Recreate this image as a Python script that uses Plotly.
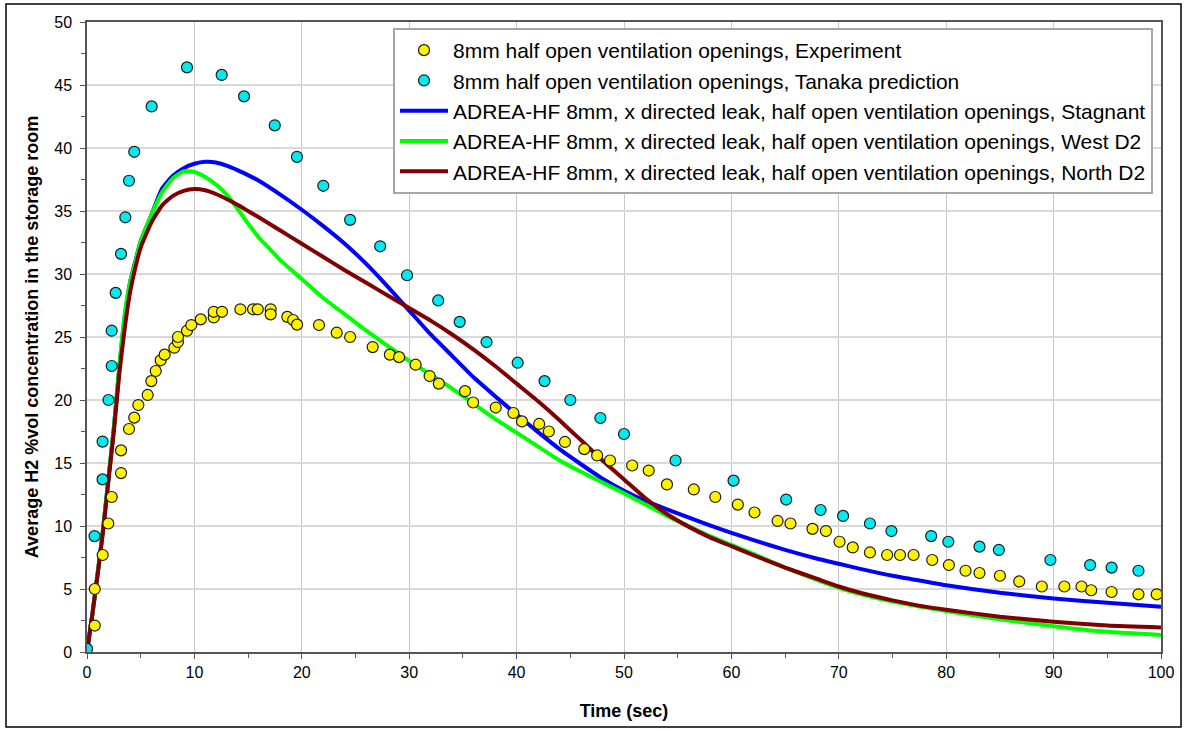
import plotly.graph_objects as go

# Experiment (yellow)
exp_t = [0.72, 0.72, 1.46, 1.98, 2.3, 3.17, 3.17, 3.91, 4.4, 4.78, 5.65, 5.99, 6.4, 6.86, 7.23, 8.13, 8.47, 8.47,
         9.31, 9.71, 10.59, 11.8, 11.8, 12.57, 14.28, 15.46, 15.9, 17.1, 17.1, 18.65, 19.19, 19.56, 21.6, 23.25,
         24.5, 26.6, 28.2, 29.06, 30.6, 31.9, 32.76, 35.2, 35.95, 38.06, 39.7, 40.5, 42.1, 43.0, 44.5, 46.3, 47.5,
         48.7, 50.76, 52.3, 54.0, 56.5, 58.5, 60.6, 62.15, 64.3, 65.5, 67.55, 68.8, 70.07, 71.3, 72.9, 74.5, 75.7,
         76.96, 78.7, 80.25, 81.8, 83.1, 85.0, 86.8, 88.9, 91.0, 92.6, 93.5, 95.4, 97.9, 99.6]
exp_v = [2.1, 5.0, 7.7, 10.2, 12.3, 14.2, 16.0, 17.7, 18.6, 19.6, 20.4, 21.5, 22.3, 23.15, 23.6, 24.15, 24.6, 25.0,
         25.5, 25.95, 26.4, 26.55, 27.0, 27.0, 27.2, 27.2, 27.2, 27.2, 26.8, 26.6, 26.35, 25.98, 25.95, 25.34,
         25.0, 24.2, 23.6, 23.4, 22.8, 21.9, 21.3, 20.7, 19.8, 19.4, 18.97, 18.3, 18.1, 17.5, 16.67, 16.1, 15.6,
         15.2, 14.8, 14.4, 13.3, 12.9, 12.3, 11.7, 11.07, 10.4, 10.2, 9.77, 9.6, 8.75, 8.3, 7.9, 7.7, 7.7,
         7.7, 7.3, 6.9, 6.45, 6.27, 6.05, 5.6, 5.2, 5.2, 5.2, 4.9, 4.76, 4.58, 4.58]

# Tanaka prediction (cyan)
tan_t = [0, 0.7, 1.45, 1.45, 2.0, 2.3, 2.3, 2.67, 3.17, 3.57, 3.91, 4.4, 6.02, 9.31, 12.54, 14.62, 17.48, 19.55,
         22.0, 24.5, 27.3, 29.8, 32.7, 34.7, 37.2, 40.1, 42.6, 45.0, 47.8, 50.0, 54.8, 60.2, 65.1, 68.3, 70.4,
         72.9, 74.9, 78.6, 80.2, 83.1, 84.9, 89.7, 93.4, 95.4, 97.9]
tan_v = [0.25, 9.2, 13.7, 16.7, 20.0, 22.7, 25.5, 28.5, 31.6, 34.5, 37.4, 39.7, 43.3, 46.4, 45.8, 44.1, 41.8, 39.3,
         37.0, 34.3, 32.2, 29.9, 27.9, 26.2, 24.6, 22.96, 21.5, 20.0, 18.57, 17.3, 15.2, 13.6, 12.1, 11.27, 10.8,
         10.2, 9.6, 9.2, 8.75, 8.36, 8.1, 7.3, 6.9, 6.7, 6.45]

# ADREA-HF Stagnant (blue)
sta_t = [0, 0.5, 1, 1.5, 2, 2.5, 3, 3.5, 4, 4.5, 5, 6, 7, 8, 9, 10, 11, 12, 13, 14, 15, 16, 18, 20, 22, 24, 26, 28,
         30, 32, 34, 36, 38, 40, 42, 44, 46, 48, 50, 52, 55, 58, 60, 62, 65, 68, 70, 72, 75, 78, 80, 85, 90, 95, 100]
sta_v = [0, 3.0, 6.3, 9.8, 13.8, 17.8, 22.5, 26.5, 29.3, 31.0, 32.6, 34.7, 36.8, 37.8, 38.4, 38.75, 38.9, 38.85,
         38.6, 38.25, 37.85, 37.4, 36.3, 35.1, 33.8, 32.4, 30.8, 29.0, 27.1, 25.2, 23.5, 21.8, 20.3, 18.85, 17.45,
         16.1, 14.9, 13.75, 12.8, 12.0, 11.0, 10.05, 9.45, 8.9, 8.1, 7.4, 7.0, 6.6, 6.05, 5.6, 5.3, 4.7, 4.25, 3.9, 3.6]

# ADREA-HF West D2 (green)
wes_t = [0, 0.5, 1, 1.5, 2, 2.5, 3, 3.5, 4, 4.5, 5, 6, 7, 8, 9, 10, 11, 12, 13, 14, 15, 16, 17, 18, 20, 22, 24, 26,
         28, 30, 32, 34, 36, 38, 40, 42, 44, 46, 48, 50, 52, 54, 56, 58, 60, 62, 65, 68, 70, 72, 75, 78, 80, 85,
         90, 95, 100]
wes_v = [0, 3.0, 6.3, 9.8, 13.8, 17.8, 22.6, 26.7, 29.3, 30.9, 32.6, 34.7, 36.5, 37.6, 38.15, 38.1, 37.7, 37.1,
         36.3, 35.2, 34.0, 32.9, 32.0, 31.1, 29.6, 28.1, 26.8, 25.5, 24.3, 23.1, 22.0, 20.9, 19.7, 18.5, 17.4,
         16.3, 15.2, 14.3, 13.45, 12.6, 11.7, 10.8, 10.0, 9.2, 8.5, 7.8, 6.7, 5.7, 5.1, 4.6, 4.0, 3.55, 3.25, 2.6,
         2.05, 1.6, 1.35]

# ADREA-HF North D2 (dark red)
nor_t = [0, 0.5, 1, 1.5, 2, 2.5, 3, 3.5, 4, 4.5, 5, 6, 7, 8, 9, 10, 11, 12, 13, 14, 15, 16, 18, 20, 22, 24, 26, 28,
         30, 32, 34, 36, 38, 40, 42, 44, 46, 48, 50, 52, 54, 56, 58, 60, 62, 65, 68, 70, 72, 75, 78, 80, 85, 90,
         95, 100]
nor_v = [0, 3.0, 6.2, 9.6, 13.6, 17.5, 22.0, 25.6, 28.5, 30.5, 32.1, 34.1, 35.45, 36.2, 36.6, 36.75, 36.65, 36.35,
         35.95, 35.5, 35.0, 34.5, 33.45, 32.4, 31.35, 30.3, 29.3, 28.3, 27.3, 26.3, 25.2, 24.0, 22.7, 21.3, 19.9,
         18.4, 16.8, 15.2, 13.7, 12.2, 10.95, 9.95, 9.1, 8.4, 7.7, 6.7, 5.8, 5.2, 4.7, 4.1, 3.6, 3.35, 2.8, 2.4,
         2.1, 1.95]

names = [
    "8mm half open ventilation openings, Experiment",
    "8mm half open ventilation openings, Tanaka prediction",
    "ADREA-HF 8mm, x directed leak, half open ventilation openings, Stagnant",
    "ADREA-HF 8mm, x directed leak, half open ventilation openings, West D2",
    "ADREA-HF 8mm, x directed leak, half open ventilation openings, North D2",
]

x_ticks = [0, 10, 20, 30, 40, 50, 60, 70, 80, 90, 100]
y_ticks = [0, 5, 10, 15, 20, 25, 30, 35, 40, 45, 50]

fig = go.Figure()
line_specs = [(sta_t, sta_v, "#0000FF", names[2], 3),
              (wes_t, wes_v, "#00FF00", names[3], 4),
              (nor_t, nor_v, "#800000", names[4], 5)]
for t, v, c, n, r in line_specs:
    fig.add_trace(go.Scatter(x=t, y=v, mode="lines", name=n, legendrank=r,
                             line=dict(color=c, width=4, shape="spline", smoothing=0.5)))

fig.add_trace(go.Scatter(x=exp_t, y=exp_v, mode="markers", name=names[0], legendrank=1,
                         marker=dict(symbol="circle", size=11, color="#FFF200",
                                     line=dict(color="#1a1a1a", width=1.2))))
fig.add_trace(go.Scatter(x=tan_t, y=tan_v, mode="markers", name=names[1], legendrank=2,
                         marker=dict(symbol="circle", size=11, color="#00EAF2",
                                     line=dict(color="#1a1a1a", width=1.2))))

L, R, T, B = 87, 25, 22, 79
W, H = 1186, 731
pw, ph = W - L - R, H - T - B

def px(xp):
    return (xp - L) / pw

def py(yp):
    return (H - B - yp) / ph

fig.add_shape(type="rect", xref="paper", yref="paper",
              x0=px(6), x1=px(1181), y0=py(727), y1=py(4),
              line=dict(color="black", width=1.5), fillcolor="rgba(0,0,0,0)", layer="below")

fig.update_layout(
    width=W, height=H,
    margin=dict(l=L, r=R, t=T, b=B),
    paper_bgcolor="white", plot_bgcolor="white",
    font=dict(family="Liberation Sans, Arial, sans-serif", color="black"),
    showlegend=True,
    legend=dict(x=px(393), y=py(28), xanchor="left", yanchor="top",
                bgcolor="white", bordercolor="#a6a6a6", borderwidth=2,
                font=dict(size=21, family="Liberation Sans, Arial, sans-serif"),
                traceorder="normal", tracegroupgap=0, itemwidth=48),
    xaxis=dict(range=[0, 100], tickvals=x_ticks, ticktext=[str(v) for v in x_ticks],
               showgrid=True, gridcolor="#c8c8c8", gridwidth=1,
               showline=True, linecolor="#555555", linewidth=1.5, mirror=True,
               ticks="outside", ticklen=5, tickcolor="#555555",
               minor=dict(dtick=5, ticks="outside", ticklen=4, tickcolor="#555555", showgrid=False),
               tickfont=dict(size=16), ticklabelstandoff=0, zeroline=False,
               title=dict(text="<b>Time (sec)</b>", font=dict(size=18), standoff=24)),
    yaxis=dict(range=[0, 50], tickvals=y_ticks, ticktext=[str(v) for v in y_ticks],
               showgrid=True, gridcolor="#d9d9d9", gridwidth=2,
               showline=True, linecolor="#555555", linewidth=1.5, mirror=True,
               ticks="outside", ticklen=5, tickcolor="#555555",
               minor=dict(dtick=2.5, ticks="outside", ticklen=4, tickcolor="#555555", showgrid=False),
               tickfont=dict(size=16), ticklabelstandoff=5, zeroline=False,
               title=dict(text="<b>Average H2 %vol concentration in the storage room</b>",
                          font=dict(size=18), standoff=11)),
)

fig.write_html("out.html", config={"displayModeBar": False},
               post_script="document.body.style.margin='0';document.body.style.padding='0';")
